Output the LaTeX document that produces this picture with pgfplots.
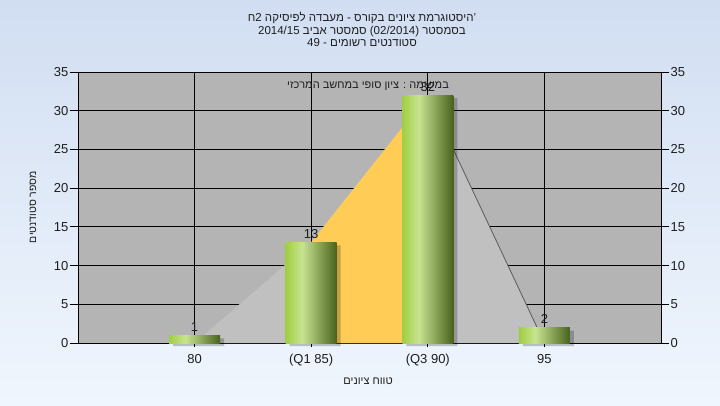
\documentclass[border=0pt]{standalone}
\usepackage{pgfplots}
\pgfplotsset{compat=1.18}
\usepackage{fontspec}
\setmainfont{Liberation Sans}
\TeXXeTstate=1
\definecolor{bgtop}{RGB}{209,222,242}
\definecolor{bgbot}{RGB}{240,246,253}
\definecolor{plotbg}{RGB}{180,180,180}
\definecolor{areagray}{RGB}{192,192,192}
\definecolor{areayel}{RGB}{255,204,85}
\definecolor{barA}{RGB}{160,206,66}
\definecolor{barB}{RGB}{200,228,144}
\definecolor{barC}{RGB}{72,98,30}
\definecolor{txt}{RGB}{30,30,30}
\pgfdeclarehorizontalshading{barshade}{100bp}{color(0bp)=(barA); color(25bp)=(barA); color(41bp)=(barB); color(75bp)=(barC); color(100bp)=(barC)}
\pgfplotsset{
  /pgf/number format/assume math mode=true,
  mybar/.style={ybar, bar width=0.437, bar shift=0pt, draw=none, shade, shading=barshade,
    nodes near coords, nodes near coords style={font=\fontsize{13}{13}\selectfont, text=txt}},
  myshadow/.style={ybar, bar width=0.437, bar shift=4pt, fill=black, fill opacity=0.22, draw=none, yshift=-3pt},
}
\begin{document}
\begin{tikzpicture}[x=1pt,y=1pt]
\fill[top color=bgtop,bottom color=bgbot] (0,0) rectangle (720,405);
\begin{axis}[
  at={(78pt,62pt)}, anchor=south west, scale only axis,
  width=583pt, height=271pt,
  xmin=-1, xmax=4, ymin=0, ymax=35,
  ytick={0,5,...,35}, xtick={0,1,2,3},
  xticklabels={80,(Q1 85),(Q3 90),95},
  axis background/.style={fill=plotbg},
  grid=major, grid style={black, line width=0.9pt},
  axis line style={black, line width=0.9pt},
  tick align=outside, major tick length=8pt,
  tick style={black, line width=0.9pt},
  xtick style={/pgfplots/major tick length=4pt},
  xtick pos=left, ytick pos=left,
  ticklabel style={font=\fontsize{13}{13}\selectfont, text=txt},
  yticklabel style={inner sep=1.5pt},
  clip=false,
]
\addplot[fill=areagray, draw=none] coordinates {(0,0) (1,13) (2,32) (3,0)} \closedcycle;
\addplot[fill=areayel, draw=none] coordinates {(1,13) (2,32)} \closedcycle;
\addplot[draw=black!65, line width=0.8pt] coordinates {(2,32) (3,0)};
\addplot[myshadow] coordinates {(0,1) (1,13) (2,32) (3,2)};
\addplot[mybar] coordinates {(0,1)};
\addplot[mybar] coordinates {(1,13)};
\addplot[mybar] coordinates {(2,32)};
\addplot[mybar] coordinates {(3,2)};
\end{axis}
\begin{axis}[
  at={(78pt,62pt)}, anchor=south west, scale only axis,
  width=583pt, height=271pt,
  xmin=-1, xmax=4, ymin=0, ymax=35,
  ytick={0,5,...,35},
  axis x line=none, axis y line*=right,
  axis line style={black, line width=0.9pt},
  tick align=outside, major tick length=8pt,
  tick style={black, line width=0.9pt},
  ticklabel style={font=\fontsize{13}{13}\selectfont, text=txt},
  yticklabel style={inner sep=1.5pt},
]
\addplot[draw=none] coordinates {(0,0)};
\end{axis}
\node[font=\fontsize{11.5}{12.5}\selectfont, align=center, text=txt] at (362,375.5) {\beginR היסטוגרמת ציונים בקורס - מעבדה לפיסיקה 2ח\endR'\\\beginR בסמסטר (02/2014) סמסטר אביב 2014/15\endR\\\beginR סטודנטים רשומים - 49\endR};
\node[font=\fontsize{11}{12}\selectfont, text=txt] at (368,319) {\beginR במשימה : ציון סופי במחשב המרכזי\endR};
\node[font=\fontsize{11}{12}\selectfont, text=txt] at (368,24) {\beginR טווח ציונים\endR};
\node[font=\fontsize{10.5}{12}\selectfont, text=txt, rotate=90] at (33,198) {\beginR מספר סטודנטים\endR};
\pgfresetboundingbox
\path[use as bounding box] (0,0) rectangle (720,405);
\end{tikzpicture}
\end{document}
